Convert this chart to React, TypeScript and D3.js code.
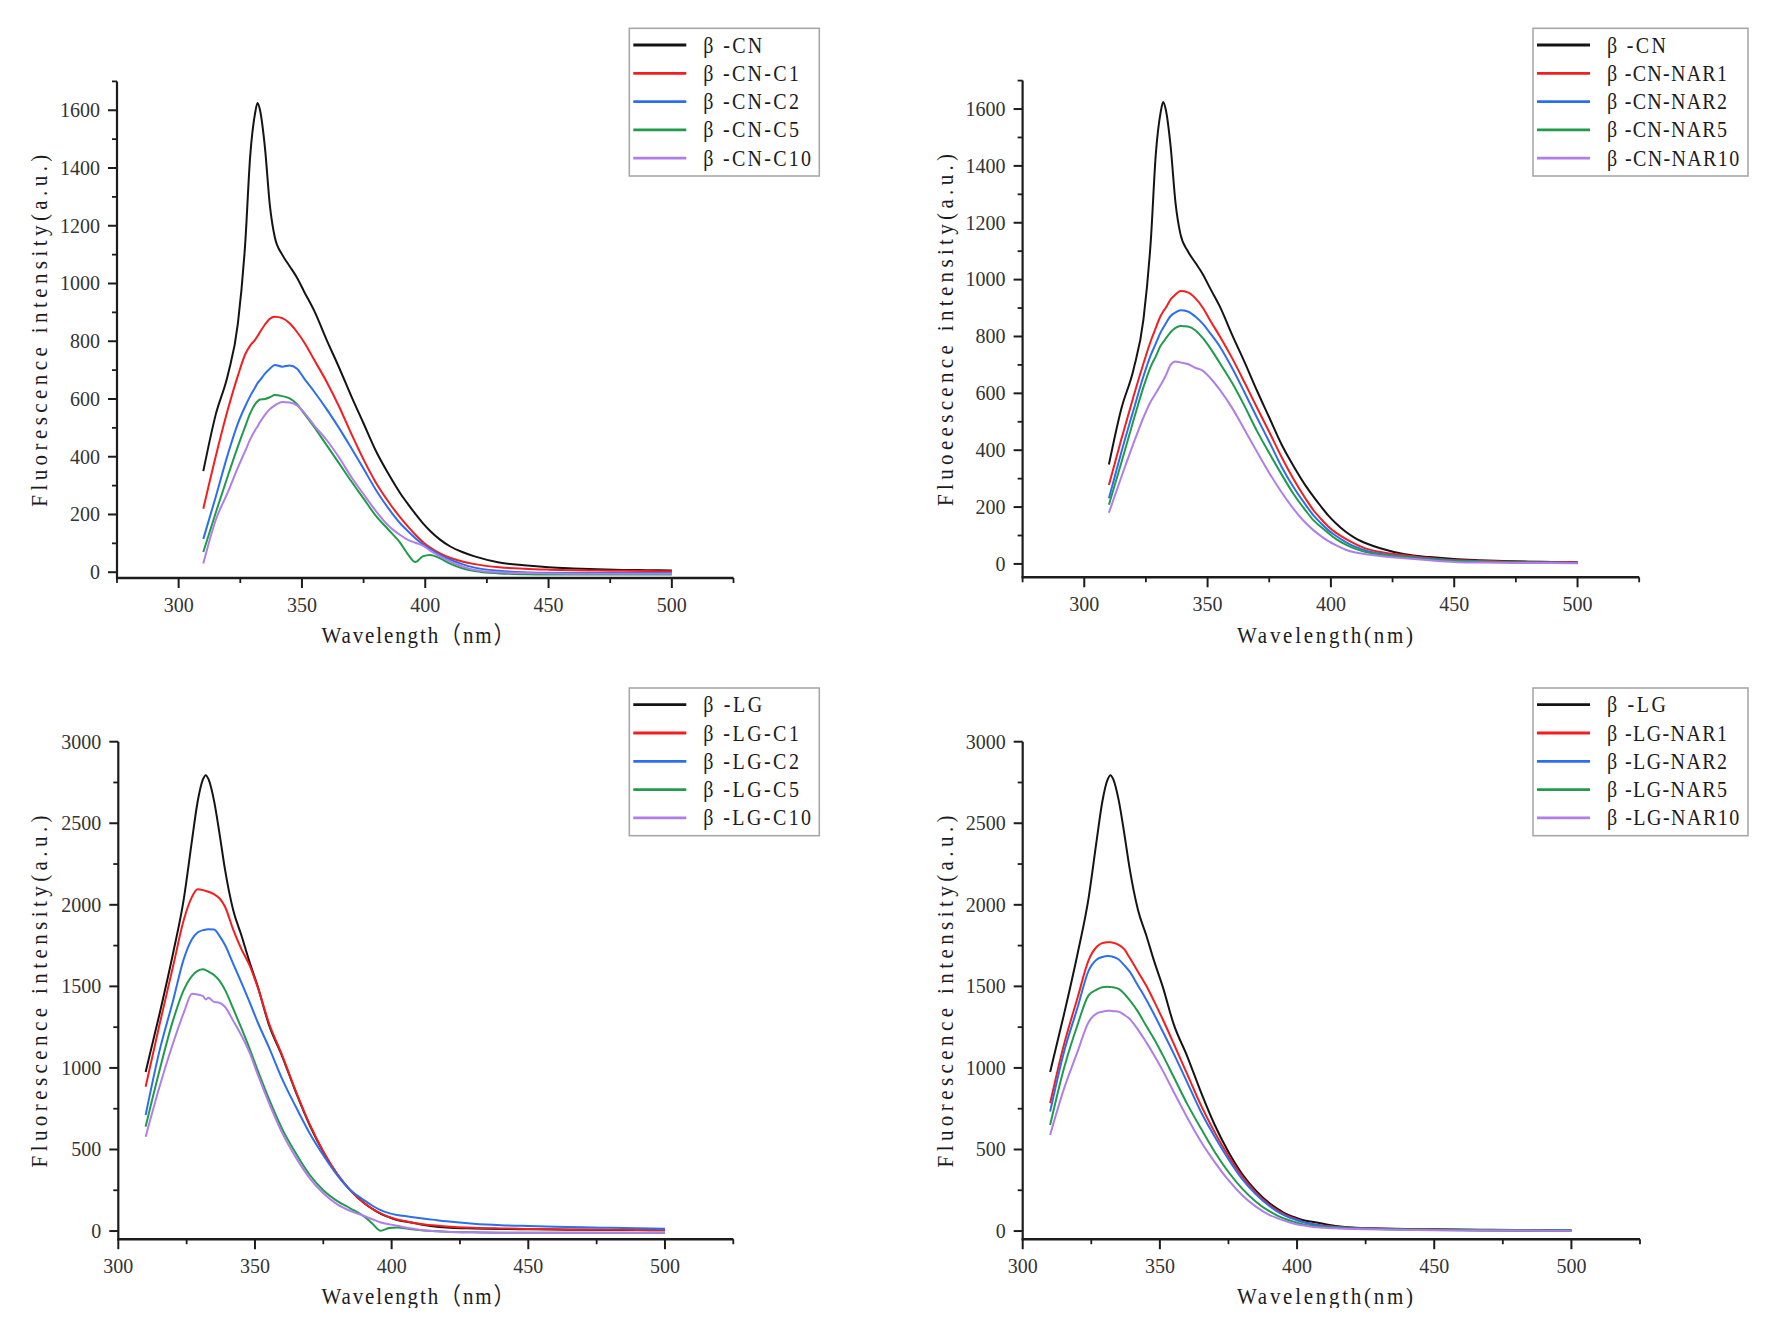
import React from "react";
import * as d3 from "d3";

// wavelength grid (nm) shared by every spectrum
const WL = [310, 315, 320, 324, 327, 329, 331, 332, 333, 335, 337, 339, 342, 345, 348, 351, 355, 360, 365, 370,
    375, 380, 385, 390, 393, 396, 399, 402, 406, 410, 415, 420, 430, 440, 450, 460, 470, 480, 490, 500];

// beta-casein
const cnControl = [350, 545, 685, 860, 1140, 1440, 1590, 1625, 1600, 1470, 1270, 1160, 1100, 1060, 1020, 970, 905, 805, 710, 610,
    515, 420, 342, 272, 236, 202, 170, 143, 113, 90, 70, 55, 34, 24, 17, 13, 10, 8, 7, 6];
const cnC1 = [220, 400, 565, 680, 755, 785, 805, 818, 832, 858, 878, 885, 880, 862, 832, 795, 735, 660, 575, 480,
    390, 310, 245, 188, 158, 130, 105, 85, 65, 50, 37, 28, 17, 12, 9, 7, 6, 5, 4, 3];
const cnC2 = [115, 260, 410, 515, 575, 610, 640, 655, 665, 688, 705, 718, 712, 716, 705, 670, 625, 565, 500, 430,
    358, 285, 222, 168, 142, 118, 97, 80, 60, 44, 28, 16, 5, 0, -2, -3, -3, -3, -3, -3];
const cnC5 = [70, 205, 335, 435, 505, 550, 582, 592, 598, 600, 606, 614, 610, 602, 582, 548, 502, 440, 378, 315,
    255, 195, 148, 100, 62, 35, 55, 60, 48, 30, 14, 4, -4, -7, -8, -8, -8, -8, -8, -8];
const cnC10 = [30, 180, 278, 362, 420, 460, 492, 505, 520, 545, 565, 578, 590, 588, 578, 552, 508, 458, 398, 330,
    270, 212, 162, 128, 112, 102, 92, 75, 55, 38, 20, 8, 0, -3, -4, -5, -5, -5, -5, -5];
const cnNar1 = [278, 438, 590, 705, 785, 830, 873, 888, 900, 930, 948, 960, 955, 935, 902, 857, 800, 723, 638, 550,
    464, 376, 296, 226, 188, 158, 131, 110, 88, 70, 52, 42, 31, 21, 14, 11, 9, 8, 7, 6];
const cnNar2 = [231, 392, 542, 660, 735, 775, 815, 830, 845, 872, 885, 892, 888, 870, 845, 812, 764, 688, 603, 515,
    430, 342, 268, 205, 170, 143, 118, 99, 77, 60, 45, 36, 26, 18, 12, 9, 7, 6, 5, 4];
const cnNar5 = [208, 355, 506, 622, 695, 730, 768, 780, 792, 815, 830, 837, 835, 822, 795, 760, 706, 636, 555, 468,
    390, 315, 244, 185, 153, 130, 108, 88, 68, 53, 40, 33, 24, 16, 11, 8, 6, 5, 4, 3];
const cnNar10 = [180, 305, 425, 515, 572, 600, 630, 645, 662, 700, 712, 709, 703, 690, 680, 655, 612, 548, 472, 395,
    320, 252, 192, 142, 118, 98, 80, 66, 50, 40, 33, 28, 20, 13, 7, 5, 4, 3, 3, 2];

// beta-lactoglobulin
const lgControl = [975, 1325, 1700, 2040, 2400, 2630, 2770, 2795, 2770, 2640, 2440, 2220, 1970, 1815, 1650, 1500, 1270, 1070, 850, 650,
    485, 350, 248, 170, 135, 105, 85, 68, 55, 43, 30, 22, 16, 13, 11, 9, 8, 7, 6, 5];
const lgC1 = [885, 1260, 1620, 1910, 2050, 2095, 2090, 2085, 2080, 2065, 2040, 1990, 1850, 1730, 1630, 1495, 1280, 1075, 855, 655,
    488, 352, 248, 170, 136, 108, 87, 71, 57, 45, 35, 28, 20, 16, 13, 11, 9, 8, 7, 6];
const lgC2 = [711, 1100, 1410, 1670, 1790, 1830, 1845, 1848, 1850, 1848, 1810, 1755, 1640, 1525, 1405, 1280, 1130, 930, 760, 600,
    465, 345, 250, 188, 155, 128, 110, 98, 89, 80, 70, 60, 45, 36, 31, 27, 23, 20, 17, 14];
const lgC5 = [640, 980, 1290, 1480, 1565, 1595, 1605, 1600, 1590, 1570, 1535, 1480, 1365, 1245, 1120, 985, 815, 625, 475, 345,
    250, 185, 138, 88, 45, 2, 18, 22, 14, 6, 0, -4, -8, -10, -10, -10, -10, -10, -10, -10];
const lgC10 = [578, 880, 1150, 1340, 1455, 1450, 1440, 1420, 1430, 1405, 1400, 1375, 1290, 1200, 1095, 960, 790, 600, 450, 325,
    232, 165, 122, 92, 72, 52, 42, 32, 18, 8, 0, -4, -8, -10, -10, -10, -10, -10, -10, -10];
const lgNar1 = [783, 1140, 1430, 1660, 1743, 1765, 1770, 1770, 1768, 1755, 1728, 1675, 1590, 1505, 1405, 1300, 1150, 960, 770, 605,
    460, 335, 235, 160, 125, 98, 77, 58, 42, 32, 25, 20, 15, 11, 8, 6, 5, 4, 4, 3];
const lgNar2 = [732, 1095, 1370, 1595, 1665, 1680, 1686, 1684, 1680, 1665, 1630, 1590, 1505, 1420, 1325, 1225, 1089, 910, 730, 578,
    440, 318, 225, 152, 118, 92, 72, 55, 40, 30, 24, 19, 14, 10, 8, 6, 5, 4, 4, 3];
const lgNar5 = [650, 995, 1265, 1445, 1480, 1495, 1498, 1496, 1494, 1485, 1455, 1415, 1345, 1258, 1175, 1080, 946, 778, 628, 485,
    362, 260, 180, 120, 93, 72, 56, 42, 31, 25, 20, 16, 12, 9, 7, 5, 4, 4, 3, 3];
const lgNar10 = [589, 870, 1100, 1280, 1335, 1345, 1350, 1350, 1348, 1345, 1325, 1300, 1235, 1158, 1075, 985, 854, 695, 548, 423,
    312, 220, 150, 98, 78, 60, 45, 35, 25, 20, 16, 13, 9, 7, 5, 4, 3, 3, 2, 2];

const cnCLabels = ["β -CN", "β -CN-C1", "β -CN-C2", "β -CN-C5", "β -CN-C10"];
const cnNarLabels = ["β -CN", "β -CN-NAR1", "β -CN-NAR2", "β -CN-NAR5", "β -CN-NAR10"];
const lgCLabels = ["β -LG", "β -LG-C1", "β -LG-C2", "β -LG-C5", "β -LG-C10"];
const lgNarLabels = ["β -LG", "β -LG-NAR1", "β -LG-NAR2", "β -LG-NAR5", "β -LG-NAR10"];

const COLORS = ["#141414", "#f51d1d", "#2b6fee", "#1f9b4b", "#b07ee8"];
const SERIF = "'Liberation Serif', 'Times New Roman', 'Noto Sans CJK SC', serif";
const INK = "#1c1c1c";

const panels = [
    {
        series: [cnControl, cnC1, cnC2, cnC5, cnC10], labels: cnCLabels,
        yTitle: "Fluorescence intensity(a.u.)", xTitle: "Wavelength（nm）", xTitleW: 193,
        xDomain: [275, 525], xRange: [117, 733.5], yDomain: [-20, 1700], yRange: [578, 81.4],
        yMajor: d3.range(0, 1601, 200), yMinor: d3.range(100, 1701, 200), xMinor: d3.range(275, 526, 50),
        legend: { x: 629.3, y: 28.3, w: 190 }, yTitleX: 47, xTitleX: 418, xTitleY: 643,
    },
    {
        series: [cnControl, cnNar1, cnNar2, cnNar5, cnNar10], labels: cnNarLabels,
        yTitle: "Fluoeescence intensity(a.u.)", xTitle: "Wavelength(nm)", xTitleW: 176,
        xDomain: [275, 525], xRange: [1022.6, 1639.2], yDomain: [-47, 1700], yRange: [577.3, 80.6],
        yMajor: d3.range(0, 1601, 200), yMinor: d3.range(100, 1701, 200), xMinor: d3.range(275, 526, 50),
        legend: { x: 1533, y: 28.3, w: 215 }, yTitleX: 953, xTitleX: 1325, xTitleY: 643,
    },
    {
        series: [lgControl, lgC1, lgC2, lgC5, lgC10], labels: lgCLabels,
        yTitle: "Fluorescence intensity(a.u.)", xTitle: "Wavelength（nm）", xTitleW: 193,
        xDomain: [300, 525], xRange: [118.3, 733.3], yDomain: [-50, 3000], yRange: [1239.2, 741.7],
        yMajor: d3.range(0, 3001, 500), yMinor: d3.range(250, 2751, 500), xMinor: d3.range(325, 526, 50),
        legend: { x: 629.3, y: 688, w: 190 }, yTitleX: 47, xTitleX: 418, xTitleY: 1304,
    },
    {
        series: [lgControl, lgNar1, lgNar2, lgNar5, lgNar10], labels: lgNarLabels,
        yTitle: "Fluorescence intensity(a.u.)", xTitle: "Wavelength(nm)", xTitleW: 176,
        xDomain: [300, 525], xRange: [1022.7, 1640], yDomain: [-50, 3000], yRange: [1239.2, 741.7],
        yMajor: d3.range(0, 3001, 500), yMinor: d3.range(250, 2751, 500), xMinor: d3.range(325, 526, 50),
        legend: { x: 1533, y: 688, w: 215 }, yTitleX: 953, xTitleX: 1325, xTitleY: 1304,
    },
];

// tall, evenly spaced serif text, close to the SimSun look of the original
function Tall({ x, y, rotate = 0, size, width, anchor = "start", children }: any) {
    const t = `translate(${x},${y})${rotate ? ` rotate(${rotate})` : ""} scale(1,1.14)`;
    return (
        <text transform={t} textAnchor={anchor} fontFamily={SERIF} fontSize={size} fill={INK}
            textLength={width} lengthAdjust="spacing">
            {children}
        </text>
    );
}

function Panel({ p }: any) {
    const x = d3.scaleLinear().domain(p.xDomain).range(p.xRange);
    const y = d3.scaleLinear().domain(p.yDomain).range(p.yRange);
    const line = d3.line<number>()
        .x((_, i) => x(WL[i]))
        .y((d) => y(d))
        .curve(d3.curveMonotoneX);
    const [x0, x1] = p.xRange;
    const [yb, yt] = p.yRange;
    const xMajor = d3.range(300, 501, 50);
    const rowH = 28.3;

    return (
        <g>
            {p.series.map((s: number[], i: number) => (
                <path key={i} d={line(s) || ""} fill="none" stroke={COLORS[i]} strokeWidth={2} strokeLinejoin="round" />
            ))}

            {/* axes */}
            <line x1={x0} x2={x0} y1={yt} y2={yb + 1} stroke={INK} strokeWidth={2.2} />
            <line x1={x0 - 1} x2={x1} y1={yb} y2={yb} stroke={INK} strokeWidth={2.6} />
            {p.yMajor.map((v: number) => (
                <g key={"ym" + v}>
                    <line x1={x0 - 9} x2={x0} y1={y(v)} y2={y(v)} stroke={INK} strokeWidth={2} />
                    <text x={x0 - 17} y={y(v) + 6.8} textAnchor="end" fontFamily={SERIF} fontSize={20} fill="#333">{v}</text>
                </g>
            ))}
            {p.yMinor.map((v: number) => (
                <line key={"yn" + v} x1={x0 - 5} x2={x0} y1={y(v)} y2={y(v)} stroke={INK} strokeWidth={1.8} />
            ))}
            {xMajor.map((v: number) => (
                <g key={"xm" + v}>
                    <line x1={x(v)} x2={x(v)} y1={yb} y2={yb + 10} stroke={INK} strokeWidth={2} />
                    <text x={x(v)} y={yb + 34} textAnchor="middle" fontFamily={SERIF} fontSize={20} fill="#333">{v}</text>
                </g>
            ))}
            {p.xMinor.map((v: number) => (
                <line key={"xn" + v} x1={x(v)} x2={x(v)} y1={yb} y2={yb + 5} stroke={INK} strokeWidth={1.8} />
            ))}

            <Tall x={p.yTitleX} y={(yt + yb) / 2 + 1} rotate={-90} size={21} width={352} anchor="middle">{p.yTitle}</Tall>
            <Tall x={p.xTitleX} y={p.xTitleY} size={21} width={p.xTitleW} anchor="middle">{p.xTitle}</Tall>

            {/* legend */}
            <rect x={p.legend.x} y={p.legend.y} width={p.legend.w} height={147.7} fill="#fff" stroke="#a8a8a8" strokeWidth={1.6} />
            {p.labels.map((lab: string, i: number) => {
                const cy = p.legend.y + 16.7 + i * rowH;
                return (
                    <g key={lab}>
                        <line x1={p.legend.x + 4} x2={p.legend.x + 57} y1={cy} y2={cy} stroke={COLORS[i]} strokeWidth={2.8} />
                        <Tall x={p.legend.x + 74} y={cy + 7.5} size={20} width={lab.length * 12.2 - 2}>{lab}</Tall>
                    </g>
                );
            })}
        </g>
    );
}

export default function App() {
    return (
        <svg width={1778} height={1328} style={{ position: "absolute", left: 0, top: 0, background: "#fff" }}>
            <defs>
                <clipPath id="page-cut">
                    <rect x={0} y={0} width={1778} height={1308} />
                </clipPath>
            </defs>
            <rect x={0} y={0} width={1778} height={1328} fill="#fff" />
            <g clipPath="url(#page-cut)">
                {panels.map((p, i) => (
                    <Panel key={i} p={p} />
                ))}
            </g>
        </svg>
    );
}
